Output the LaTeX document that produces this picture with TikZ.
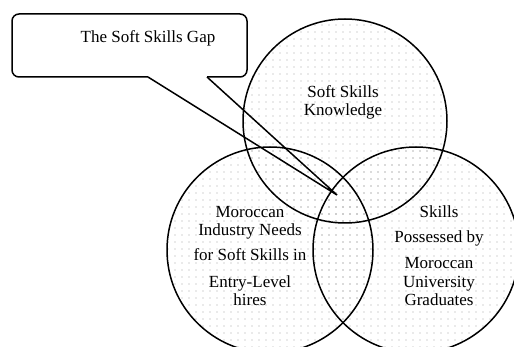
\documentclass[tikz,border=0pt]{standalone}
\usepackage{fontspec}
\setmainfont{Liberation Serif}
\usetikzlibrary{patterns.meta}

\begin{document}
\begin{tikzpicture}[x=1pt,y=-1pt]
		\tikzset{venn/.style={line width=1.5pt},
			dotfill/.style={pattern={Dots[distance=7pt,radius=0.6pt]},pattern color=black!35},
			lbl/.style={align=center,inner sep=0pt,font=\fontsize{17}{18}\selectfont}}
		\useasboundingbox (0,0) rectangle (514,347);
		\fill[dotfill] (345,121) circle [radius=102pt];
		\fill[dotfill] (270,250) circle [radius=103pt];
		\fill[dotfill] (416,250) circle [radius=103pt];
		\draw[venn] (345,121) circle [radius=102pt];
		\draw[venn] (270,250) circle [radius=103pt];
		\draw[venn] (416,250) circle [radius=103pt];
		\node[lbl] (know) at (343,102) {Soft Skills\\Knowledge};
		\node[lbl] (needs) at (250,256) {Moroccan\\Industry Needs\\[7pt]for Soft Skills in\\[9pt]Entry-Level\\hires};
		\node[lbl] (grads) at (439,256) {Skills\\[7pt]Possessed by\\[8pt]Moroccan\\[1pt]University\\Graduates};
		\coordinate (ptl) at (148,77);
		\coordinate (ptr) at (207,77);
		\coordinate (tip) at (337,195);
		\draw[venn,rounded corners=7pt] (ptl) -- (12,77) -- (12,14) -- (247,14) -- (247,77) -- (ptr);
		\draw[venn,line join=miter] (ptl) -- (tip) -- (ptr);
		\node[lbl] (gap) at (148,38) {The Soft Skills Gap};
	\end{tikzpicture}
\end{document}
